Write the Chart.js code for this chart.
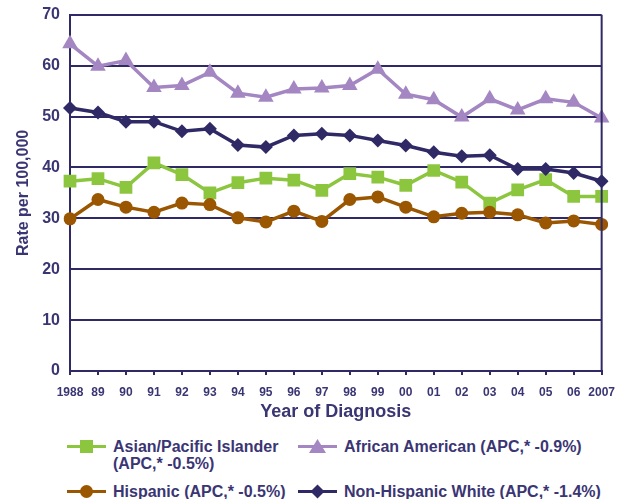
<!DOCTYPE html>
<html>
<head>
<meta charset="utf-8">
<script src="https://cdn.jsdelivr.net/npm/chart.js@4/dist/chart.umd.min.js"></script>
<style>
  html, body { margin: 0; padding: 0; background: #fff; }
  #wrap { position: relative; width: 625px; height: 499px; }
  #chart { position: absolute; left: 0; top: 0; }
  .leg { position: absolute; font: bold 16px "Liberation Sans", Arial, sans-serif; color: #3a3573; line-height: 17px; white-space: nowrap; }
  .leg svg { position: absolute; left: 0; top: 0; }
  .leg span { position: absolute; left: 46px; top: 0; }
</style>
</head>
<body>
<div id="wrap">
  <canvas id="chart" width="625" height="423"></canvas>
  <div id="legend"></div>
</div>
<script>
// years along the x axis
const years = ['1988', '89', '90', '91', '92', '93', '94', '95', '96', '97',
  '98', '99', '00', '01', '02', '03', '04', '05', '06', '2007'];

// rates per 100,000
const asianPI = [37.3, 37.8, 36.1, 40.9, 38.6, 35.0, 37.0, 37.9, 37.5, 35.5,
  38.8, 38.1, 36.5, 39.4, 37.1, 33.0, 35.6, 37.6, 34.3, 34.3];
const africanAmerican = [64.3, 59.9, 61.0, 55.7, 56.1, 58.7, 54.6, 53.8, 55.4, 55.6,
  56.1, 59.3, 54.4, 53.3, 49.9, 53.5, 51.3, 53.5, 52.8, 49.7];
const hispanic = [29.9, 33.7, 32.2, 31.2, 33.0, 32.7, 30.1, 29.3, 31.4, 29.4,
  33.7, 34.2, 32.2, 30.3, 31.0, 31.2, 30.7, 29.1, 29.5, 28.8];
const nonHispWhite = [51.7, 50.8, 49.0, 49.0, 47.1, 47.6, 44.4, 44.0, 46.3, 46.6,
  46.3, 45.3, 44.3, 43.0, 42.2, 42.4, 39.7, 39.7, 38.9, 37.3];

const yTicks = [0, 10, 20, 30, 40, 50, 60, 70];

const navy = '#2f2966';
const textNavy = '#3a3573';

const series = [
  { label: 'Asian/Pacific Islander (APC,* -0.5%)', data: asianPI, color: '#8cc63f', style: 'rect', radius: 9 },
  { label: 'African American (APC,* -0.9%)', data: africanAmerican, color: '#a386c2', style: 'triangle', radius: 9 },
  { label: 'Hispanic (APC,* -0.5%)', data: hispanic, color: '#9a5600', style: 'circle', radius: 6.5 },
  { label: 'Non-Hispanic White (APC,* -1.4%)', data: nonHispWhite, color: navy, style: 'rectRot', radius: 7 }
];

// right-hand border of the plot box
const boxBorder = {
  id: 'boxBorder',
  afterDatasetsDraw(chart) {
    const a = chart.chartArea;
    const ctx = chart.ctx;
    ctx.save();
    ctx.strokeStyle = navy;
    ctx.lineWidth = 2;
    ctx.beginPath();
    ctx.moveTo(a.right, a.top);
    ctx.lineTo(a.right, a.bottom);
    ctx.stroke();
    ctx.restore();
  }
};

const font = 'Liberation Sans';

new Chart(document.getElementById('chart'), {
  type: 'line',
  data: {
    labels: years,
    datasets: series.map(s => ({
      label: s.label,
      data: s.data,
      borderColor: s.color,
      backgroundColor: s.color,
      borderWidth: 3.5,
      pointStyle: s.style,
      pointRadius: s.radius,
      pointBorderWidth: 0,
      tension: 0
    })).reverse()
  },
  options: {
    responsive: false,
    animation: false,
    layout: { padding: { left: 14, top: 0, right: 22, bottom: 0 } },
    plugins: { legend: { display: false }, tooltip: { enabled: false } },
    scales: {
      x: {
        offset: false,
        grid: { drawOnChartArea: false, color: navy, lineWidth: 2, tickLength: 4 },
        border: { color: navy, width: 2 },
        ticks: { color: textNavy, font: { family: font, size: 12, weight: 'bold' }, padding: 10, maxRotation: 0, autoSkip: false },
        title: { display: true, text: 'Year of Diagnosis', color: textNavy, font: { family: font, size: 18, weight: 'bold' }, padding: 0 },
        afterFit(scale) { scale.height = 52; }
      },
      y: {
        min: 0,
        max: 70,
        afterBuildTicks(scale) { scale.ticks = yTicks.map(v => ({ value: v })); },
        grid: { color: navy, lineWidth: 2, drawTicks: false },
        border: { color: navy, width: 2 },
        ticks: { color: textNavy, font: { family: font, size: 16, weight: 'bold', lineHeight: 0.6 }, padding: 10 },
        title: { display: true, text: 'Rate per 100,000', color: textNavy, font: { family: font, size: 16, weight: 'bold' }, padding: 0 },
        afterFit(scale) { scale.width = 56; }
      }
    }
  },
  plugins: [boxBorder]
});

// html legend with the wrapped first entry
function markerSvg(s) {
  const c = s.color;
  let m = '';
  if (s.style === 'rect') m = `<rect x="13" y="2" width="13" height="13" fill="${c}"/>`;
  if (s.style === 'triangle') m = `<polygon points="19.5,1 28,15 11,15" fill="${c}"/>`;
  if (s.style === 'circle') m = `<circle cx="19.5" cy="8.5" r="6.5" fill="${c}"/>`;
  if (s.style === 'rectRot') m = `<polygon points="19.5,1.5 26.5,8.5 19.5,15.5 12.5,8.5" fill="${c}"/>`;
  return `<svg width="39" height="17"><line x1="0" y1="8.5" x2="39" y2="8.5" stroke="${c}" stroke-width="3"/>${m}</svg>`;
}
const legendPos = [
  { left: 67, top: 438, text: 'Asian/Pacific Islander<br>(APC,* -0.5%)' },
  { left: 298, top: 438, text: 'African American (APC,* -0.9%)' },
  { left: 67, top: 483, text: 'Hispanic (APC,* -0.5%)' },
  { left: 298, top: 483, text: 'Non-Hispanic White (APC,* -1.4%)' }
];
const legend = document.getElementById('legend');
series.forEach((s, i) => {
  const p = legendPos[i];
  const d = document.createElement('div');
  d.className = 'leg';
  d.style.left = p.left + 'px';
  d.style.top = p.top + 'px';
  d.innerHTML = markerSvg(s) + `<span>${p.text}</span>`;
  legend.appendChild(d);
});
</script>
</body>
</html>
